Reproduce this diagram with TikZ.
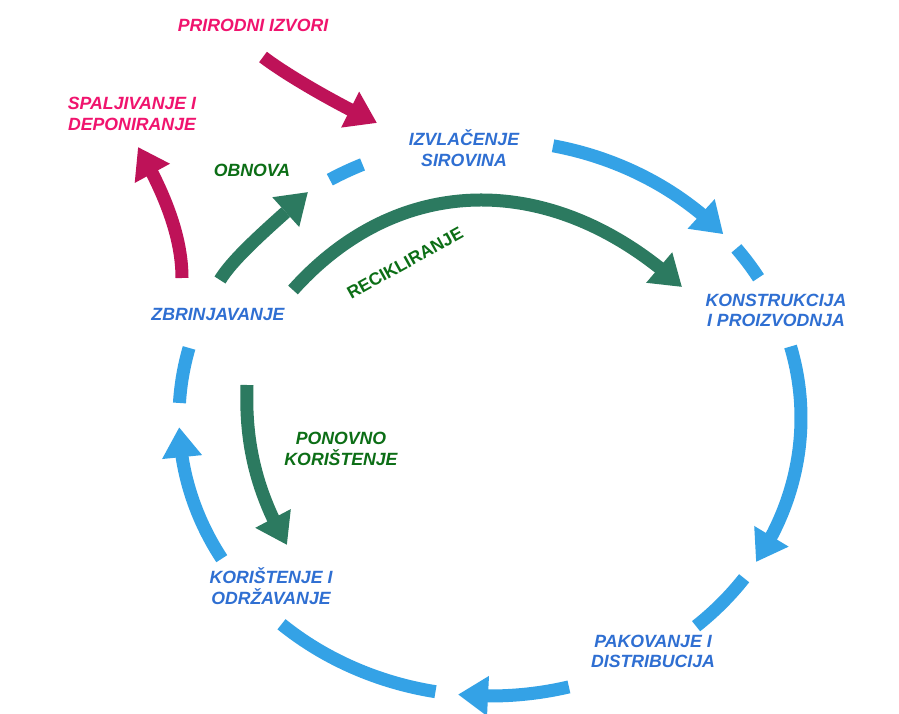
\documentclass[tikz,border=0pt]{standalone}
\usepackage{fontspec}
\setmainfont{Liberation Sans}
\usetikzlibrary{arrows.meta,bending,calc}
\definecolor{arrowblue}{RGB}{52,162,230}
\definecolor{textblue}{RGB}{47,111,210}
\definecolor{arrowgreen}{RGB}{44,122,96}
\definecolor{textgreen}{RGB}{12,110,22}
\definecolor{arrowmag}{RGB}{190,18,88}
\definecolor{textmag}{RGB}{240,20,110}
\begin{document}
\begin{tikzpicture}[x=1pt,y=1pt,
  lbl/.style={font=\fontsize{17.7}{20.8}\selectfont\bfseries\itshape, inner sep=0pt, align=center},
  stage/.style={lbl, text=textblue},
  flowlbl/.style={lbl, text=textgreen},
  outerlbl/.style={lbl, text=textmag},
  band/.style={line width=13pt},
  tipped/.style={-{Triangle[length=30pt,width=38pt]}},
  blueband/.style={band, draw=arrowblue},
  greenband/.style={band, draw=arrowgreen, tipped},
  magband/.style={band, draw=arrowmag, tipped},
  ell/.style={x radius=311, y radius=278}
]
\useasboundingbox (0,0) rectangle (899,713);
\fill[white] (0,0) rectangle (899,713);

% centre of the cycle
\coordinate (C) at (490,295);

% labels
\node[outerlbl] (prirodni) at (253,688) {PRIRODNI IZVORI};
\node[outerlbl] (spaljivanje) at (132,599) {SPALJIVANJE I\\DEPONIRANJE};
\node[flowlbl] (obnova) at (252,543) {OBNOVA};
\node[stage] (izvlacenje) at (464,565) {IZVLAČENJE\\SIROVINA};
\node[flowlbl, font=\fontsize{17.5}{20.8}\selectfont\bfseries, rotate=29] (recikliranje) at (405,450) {RECIKLIRANJE};
\node[stage] (konstrukcija) at (776,402.5) {KONSTRUKCIJA\\I PROIZVODNJA};
\node[stage] (zbrinjavanje) at (218,398.5) {ZBRINJAVANJE};
\node[flowlbl] (ponovno) at (341,264) {PONOVNO\\KORIŠTENJE};
\node[stage] (koristenje) at (271,127) {KORIŠTENJE I\\ODRŽAVANJE};
\node[stage] (pakovanje) at (653,61.5) {PAKOVANJE I\\DISTRIBUCIJA};

% points on the cycle
\coordinate (b1s) at ($(C)+(78.3:311 and 278)$);
\coordinate (b2s) at ($(C)+(37.6:311 and 278)$);
\coordinate (b3s) at ($(C)+(14.9:311 and 278)$);
\coordinate (b4s) at ($(C)+(-35.2:311 and 278)$);
\coordinate (b5s) at ($(C)+(-75.3:311 and 278)$);
\coordinate (b6s) at ($(C)+(-100.1:311 and 278)$);
\coordinate (b7s) at ($(C)+(-149.6:311 and 278)$);
\coordinate (b8s) at ($(C)+(176.9:311 and 278)$);
\coordinate (b9s) at ($(C)+(121:311 and 278)$);

% blue cycle
\draw[blueband, tipped] (b1s) arc[ell, start angle=78.3, end angle=41.4];
\draw[blueband] (b2s) arc[ell, start angle=37.6, end angle=30.3];
\draw[blueband, tipped] (b3s) arc[ell, start angle=14.9, end angle=-31.2];
\draw[blueband] (b4s) arc[ell, start angle=-35.2, end angle=-48.5];
\draw[blueband, tipped] (b5s) arc[ell, start angle=-75.3, end angle=-95.9];
\draw[blueband] (b6s) arc[ell, start angle=-100.1, end angle=-132.1];
\draw[blueband, tipped] (b7s) arc[ell, start angle=-149.6, end angle=-178.1];
\draw[blueband] (b8s) arc[ell, start angle=176.9, end angle=165.4];
\draw[blueband] (b9s) arc[ell, start angle=121, end angle=114.2];

% magenta arrows
\coordinate (pT) at (263,656);
\coordinate (pH) at (377,590);
\draw[magband] (pT) .. controls (288,637) and (337,609) .. (pH);
\coordinate (sT) at (182,435);
\coordinate (sH) at (138,566);
\draw[magband] (sT) .. controls (182,478) and (163,523) .. (sH);

% green arrows
\coordinate (oT) at (220,433);
\coordinate (oH) at (308,521);
\draw[greenband] (oT) .. controls (235,458) and (280,495) .. (oH);
\coordinate (rT) at (293,423);
\coordinate (rH) at (682,426);
\draw[greenband] (rT) .. controls (400,542.5) and (555,542.5) .. (rH);
\coordinate (kT) at (247,328);
\coordinate (kH) at (287,168);
\draw[greenband] (kT) .. controls (245,273) and (255,223) .. (kH);
\end{tikzpicture}
\end{document}
